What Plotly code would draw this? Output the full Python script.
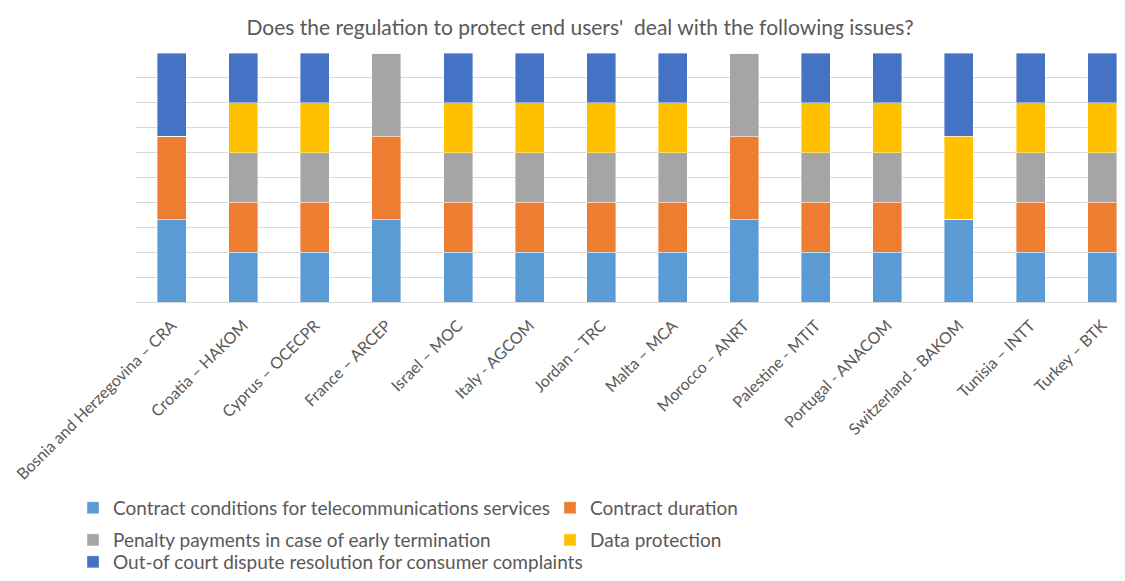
import plotly.graph_objects as go

countries = [
    "Bosnia and Herzegovina – CRA", "Croatia – HAKOM", "Cyprus – OCECPR", "France – ARCEP",
    "Israel – MOC", "Italy - AGCOM", "Jordan – TRC", "Malta – MCA", "Morocco – ANRT",
    "Palestine - MTIT", "Portugal - ANACOM", "Switzerland - BAKOM", "Tunisia – INTT", "Turkey – BTK",
]

# 1 = issue covered, 0 = not covered
contract_conditions = [1, 1, 1, 1, 1, 1, 1, 1, 1, 1, 1, 1, 1, 1]
contract_duration = [1, 1, 1, 1, 1, 1, 1, 1, 1, 1, 1, 0, 1, 1]
penalty_payments = [0, 1, 1, 1, 1, 1, 1, 1, 1, 1, 1, 0, 1, 1]
data_protection = [0, 1, 1, 0, 1, 1, 1, 1, 0, 1, 1, 1, 1, 1]
dispute_resolution = [1, 1, 1, 0, 1, 1, 1, 1, 0, 1, 1, 1, 1, 1]

# name, values, colour, legend row
series = [
    ("Contract conditions for telecommunications services", contract_conditions, "#5b9bd5", "legend"),
    ("Contract duration", contract_duration, "#ed7d31", "legend"),
    ("Penalty payments in case of early termination", penalty_payments, "#a5a5a5", "legend2"),
    ("Data protection", data_protection, "#ffc000", "legend2"),
    ("Out-of court dispute resolution for consumer complaints", dispute_resolution, "#4472c4", "legend3"),
]

fig = go.Figure()
for name, vals, color, leg in series:
    fig.add_trace(go.Bar(
        x=countries, y=vals, name=name, legend=leg,
        marker=dict(color=color, line=dict(color="rgba(255,255,255,0.5)", width=0.8)),
    ))

font = "Lato, 'Open Sans', sans-serif"
# the page body has an 8px margin, so the figure is a bit smaller than the window
W, H = 1117, 573


def legend_row(y, anchor="middle", entrywidth=432, yref="paper"):
    return dict(
        orientation="h", x=-0.064, xanchor="left", y=y, yanchor=anchor, yref=yref,
        entrywidth=entrywidth, traceorder="normal",
        font=dict(size=19, color="#595959"), bgcolor="rgba(0,0,0,0)",
    )


fig.update_layout(
    barmode="stack",
    barnorm="percent",
    bargap=0.595,
    width=W,
    height=H,
    margin=dict(l=128, r=5, t=45, b=279),
    plot_bgcolor="white",
    paper_bgcolor="white",
    font=dict(family=font, color="#595959", size=16),
    title=dict(
        text="Does the regulation to protect end users'  deal with the following issues?",
        x=572 / W, xanchor="center", y=1 - 20 / H, yanchor="middle",
        font=dict(size=21, color="#595959"),
    ),
    xaxis=dict(
        tickangle=-45, range=[-0.5, 13.25], showgrid=False, automargin=False,
        showline=True, linecolor="#d9d9d9", ticks="", ticklabelstandoff=7,
        tickfont=dict(size=16, color="#595959"),
    ),
    yaxis=dict(
        range=[0, 100], dtick=10, showticklabels=False, automargin=False,
        showgrid=True, gridcolor="#d9d9d9", gridwidth=1, zeroline=False,
    ),
    legend=legend_row(-0.827),
    legend2=legend_row(-0.956),
    legend3=legend_row(-0.028, anchor="bottom", entrywidth=520, yref="container"),
    showlegend=True,
)

fig.write_html("out.html")
